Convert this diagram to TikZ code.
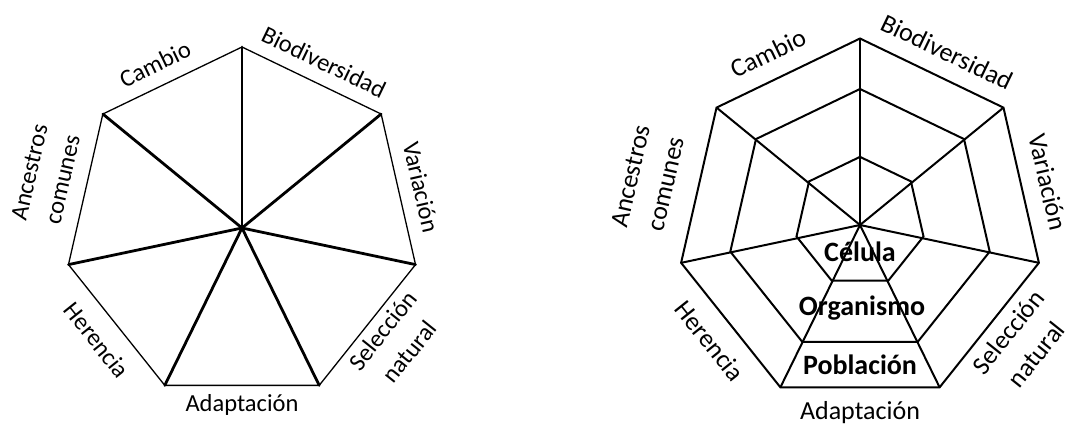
\documentclass[tikz,border=0pt]{standalone}
\usepackage{fontspec}
\setmainfont{Carlito}
\begin{document}
\begin{tikzpicture}[x=1pt,y=-1pt,
  thinedge/.style={line width=1.3pt,line join=miter},
  spoke/.style={line width=2.8pt,line cap=round},
  webline/.style={line width=2pt,line join=miter},
  labL/.style={font=\fontsize{24.5}{34}\selectfont,align=center,inner sep=0pt},
  labR/.style={font=\fontsize{26}{36}\selectfont,align=center,inner sep=0pt},
  level/.style={font=\fontsize{28}{32}\selectfont\bfseries,inner sep=0pt}]
\useasboundingbox[fill=white] (0,0) rectangle (1066,425);
% ---- left heptagon ----
\foreach \i in {0,...,6}{
  \pgfmathsetmacro\a{90-\i*360/7}
  \coordinate (L\i) at ({242+178*cos(\a)},{225-178*sin(\a)});
}
\coordinate (LH) at (242,228);
\draw[thinedge] (L0)--(L1)--(L2)--(L3)--(L4)--(L5)--(L6)--cycle;
\foreach \i in {0,...,6}{ \draw[spoke] (LH)--(L\i); }
\node[labL,rotate=25.7] (lcambio) at (155,64) {Cambio};
\node[labL,rotate=-25.7] (lbio) at (324,62) {Biodiversidad};
\node[labL,rotate=-77.1] (lvar) at (421,187) {Variación};
\node[labL,rotate=51.4] (lsel) at (396,341) {Selección\\natural};
\node[labL] (ladap) at (242,405) {Adaptación};
\node[labL,rotate=-51.4] (lher) at (97,340) {Herencia};
\node[labL,rotate=77.1] (lanc) at (46,176) {Ancestros\\comunes};
% ---- right heptagon ----
\foreach \i in {0,...,6}{
  \pgfmathsetmacro\a{90-\i*360/7}
  \coordinate (R\i) at ({860+183.5*cos(\a)},{222-183.5*sin(\a)});
  \coordinate (M\i) at ({860+0.725*183.5*cos(\a)},{222-0.725*183.5*sin(\a)});
  \coordinate (I\i) at ({860+0.355*183.5*cos(\a)},{222-0.355*183.5*sin(\a)});
}
\coordinate (RH) at (860,225);
\draw[webline] (R0)--(R1)--(R2)--(R3)--(R4)--(R5)--(R6)--cycle;
\draw[webline] (M0)--(M1)--(M2)--(M3)--(M4)--(M5)--(M6)--cycle;
\draw[webline] (I0)--(I1)--(I2)--(I3)--(I4)--(I5)--(I6)--cycle;
\foreach \i in {0,...,6}{ \draw[webline] (RH)--(R\i); }
\node[level] (celula) at (860,252) {Célula};
\node[level] (organismo) at (862,308) {Organismo};
\node[level] (poblacion) at (860,365) {Población};
\node[labR,rotate=25.7] (rcambio) at (768,53) {Cambio};
\node[labR,rotate=-25.7] (rbio) at (947,52) {Biodiversidad};
\node[labR,rotate=-77.1] (rvar) at (1048,182) {Variación};
\node[labR,rotate=51.4] (rsel) at (1022,343) {Selección\\natural};
\node[labR] (radap) at (860,413) {Adaptación};
\node[labR,rotate=-51.4] (rher) at (710,341) {Herencia};
\node[labR,rotate=77.1] (ranc) at (648,180) {Ancestros\\comunes};
\end{tikzpicture}
\end{document}
